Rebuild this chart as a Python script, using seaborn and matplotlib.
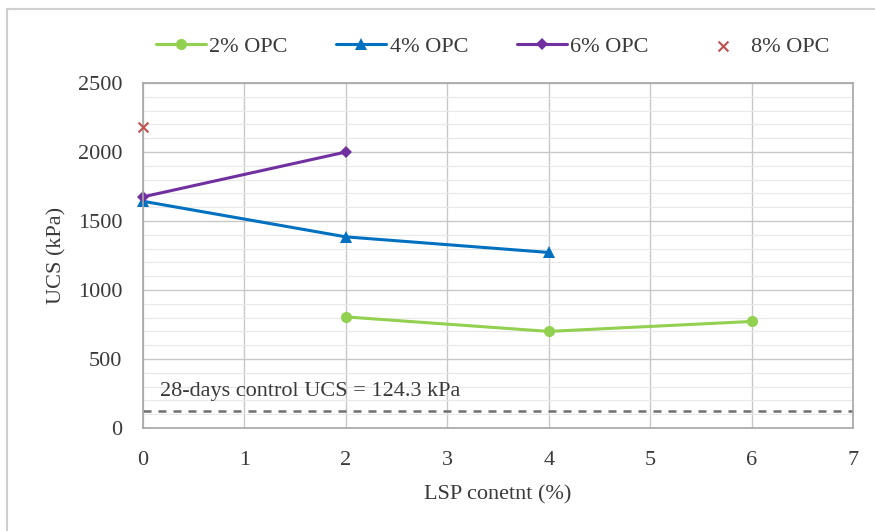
import matplotlib
matplotlib.use("Agg")
import matplotlib.pyplot as plt
import seaborn as sns
import pandas as pd
from matplotlib.ticker import MultipleLocator
from matplotlib.patches import Rectangle

# Data
lsp_2 = [2, 4, 6]
ucs_2 = [805, 700, 772]
lsp_4 = [0, 2, 4]
ucs_4 = [1643, 1385, 1272]
lsp_6 = [0, 2]
ucs_6 = [1675, 2000]
lsp_8 = [0]
ucs_8 = [2180]
control_ucs = 124.3
series_names = ["2% OPC", "4% OPC", "6% OPC", "8% OPC"]

sns.set_theme(style="white")
plt.rcParams['font.family'] = ['Liberation Serif', 'DejaVu Serif']

fig = plt.figure(figsize=(8.75, 5.31), dpi=100)
ax = fig.add_axes([143 / 875, 1 - 428 / 531, 710 / 875, 345 / 531])

fs = 16
txt = "#3A3A3A"
df2 = pd.DataFrame({"x": lsp_2, "y": ucs_2})
df4 = pd.DataFrame({"x": lsp_4, "y": ucs_4})
df6 = pd.DataFrame({"x": lsp_6, "y": ucs_6})
df8 = pd.DataFrame({"x": lsp_8, "y": ucs_8})

sns.lineplot(data=df2, x="x", y="y", ax=ax, color="#92D050", marker="o",
             markersize=8, linewidth=2.2, markeredgewidth=0, label=series_names[0],
             clip_on=False)
sns.lineplot(data=df4, x="x", y="y", ax=ax, color="#0070C0", marker="^",
             markersize=8, linewidth=2.2, markeredgewidth=0, label=series_names[1],
             clip_on=False)
sns.lineplot(data=df6, x="x", y="y", ax=ax, color="#7030A0", marker="D",
             markersize=6, linewidth=2.2, markeredgewidth=0, label=series_names[2],
             clip_on=False)
sns.scatterplot(data=df8, x="x", y="y", ax=ax, color="#C0504D", marker="x",
                s=50, linewidth=1.5, label=series_names[3], zorder=5, clip_on=False)

ax.axhline(control_ucs, color="#6F6F6F", linestyle=(0, (3.2, 2.8)), linewidth=1.8, zorder=1)
ax.text(0.168, 262, "28-days control UCS = 124.3 kPa", fontsize=fs, color=txt,
        va="center", ha="left")

ax.set_xlim(0, 7)
ax.set_ylim(0, 2500)
ax.xaxis.set_major_locator(MultipleLocator(1))
ax.yaxis.set_major_locator(MultipleLocator(500))
ax.yaxis.set_minor_locator(MultipleLocator(100))
ax.grid(True, which="major", axis="both", color="#C8C8C8", linewidth=1.0)
ax.grid(True, which="minor", axis="y", color="#E8E8E8", linewidth=0.8)
ax.set_axisbelow(True)
for s in ax.spines.values():
    s.set_color("#A6A6A6")
    s.set_linewidth(1.2)
ax.tick_params(axis="x", labelsize=fs, colors=txt, length=0, pad=16.5)
ax.tick_params(axis="y", which="both", labelsize=fs, colors=txt, length=0, pad=15)
ax.set_xlabel("LSP conetnt (%)", fontsize=fs, color=txt, labelpad=11)
ax.set_ylabel("UCS (kPa)", fontsize=fs, color=txt, labelpad=8)

handles, labels = ax.get_legend_handles_labels()
ax.get_legend().remove()
fig.legend(handles, labels, loc="center", bbox_to_anchor=(0.563, 0.9115), ncol=4,
           frameon=False, fontsize=fs, handlelength=2.25, handletextpad=0.15,
           columnspacing=2.2, labelcolor=txt)

fig.patches.append(Rectangle((7 / 875, -0.01), 1.0, 1 - 9 / 531 + 0.01,
                             transform=fig.transFigure, fill=False,
                             edgecolor="#D0D0D0", linewidth=1.5))

fig.savefig("out.png", dpi=100)
